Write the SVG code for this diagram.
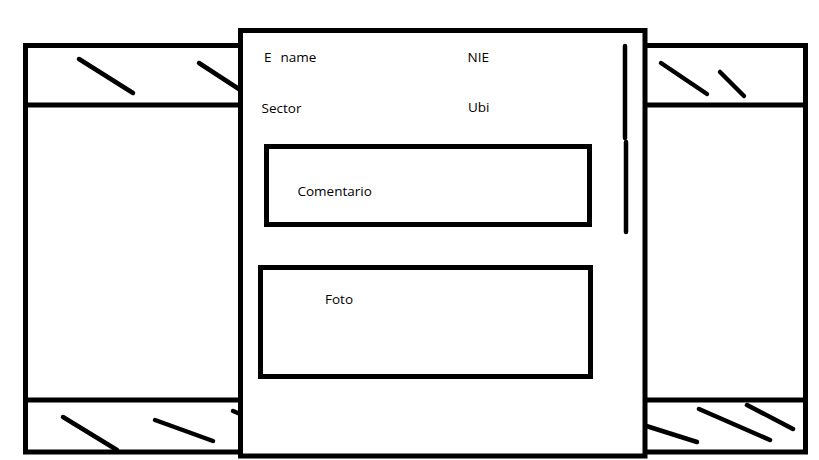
<svg xmlns="http://www.w3.org/2000/svg" width="819" height="460" viewBox="0 0 819 460">
  <style>
    .frame { fill: #ffffff; stroke: #000000; stroke-width: 5; }
    .rule { stroke: #000000; stroke-width: 5; fill: none; }
    .hatch { stroke: #000000; stroke-width: 4.5; stroke-linecap: round; fill: none; }
    .label { font-family: "Open Sans", "Noto Sans", "Liberation Sans", sans-serif; font-size: 13.5px; fill: #000000; }
  </style>
  <rect width="819" height="460" fill="#ffffff"/>

  <!-- card stacked behind, left -->
  <g id="card-left">
    <rect class="frame" x="25.5" y="45.5" width="230" height="406.5"/>
    <line class="rule" x1="25.5" y1="105" x2="255" y2="105"/>
    <line class="rule" x1="25.5" y1="400" x2="255" y2="400"/>
    <line class="hatch" x1="79" y1="59" x2="133" y2="93"/>
    <line class="hatch" x1="199" y1="63" x2="245" y2="93"/>
    <line class="hatch" x1="63" y1="417" x2="117" y2="450"/>
    <line class="hatch" x1="155" y1="420" x2="213" y2="441"/>
    <line class="hatch" x1="233" y1="411" x2="245" y2="416"/>
  </g>

  <!-- card stacked behind, right -->
  <g id="card-right">
    <rect class="frame" x="630" y="45.5" width="175.5" height="406.5"/>
    <line class="rule" x1="630" y1="105" x2="805.5" y2="105"/>
    <line class="rule" x1="630" y1="400" x2="805.5" y2="400"/>
    <line class="hatch" x1="661" y1="63" x2="707" y2="94"/>
    <line class="hatch" x1="720" y1="72" x2="744" y2="96"/>
    <line class="hatch" x1="640" y1="424" x2="697" y2="442"/>
    <line class="hatch" x1="699" y1="409" x2="770" y2="440"/>
    <line class="hatch" x1="747" y1="405" x2="793" y2="429"/>
  </g>

  <!-- front card -->
  <g id="card-main">
    <rect class="frame" x="240.5" y="30.5" width="404.5" height="425.5"/>
    <line class="hatch" x1="625" y1="46" x2="625" y2="138"/>
    <line class="hatch" x1="626" y1="142" x2="626" y2="232"/>
    <text class="label" x="264" y="62">E</text>
    <text class="label" x="280.5" y="62">name</text>
    <text class="label" x="467.5" y="62">NIE</text>
    <text class="label" x="261.5" y="112.5">Sector</text>
    <text class="label" x="468" y="112">Ubi</text>
  </g>

  <g id="box-comentario">
    <rect class="frame" x="266.5" y="146.5" width="323" height="78"/>
    <text class="label" x="297.5" y="195.5">Comentario</text>
  </g>

  <g id="box-foto">
    <rect class="frame" x="260.5" y="267.5" width="330" height="109"/>
    <text class="label" x="325" y="304">Foto</text>
  </g>
</svg>
